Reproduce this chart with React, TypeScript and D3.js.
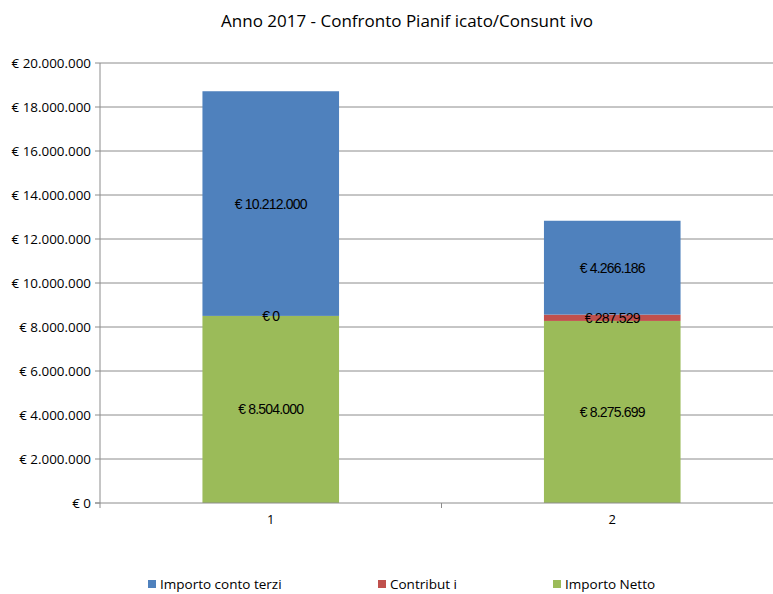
import React from "react";
import * as d3 from "d3";

const categories = ["1", "2"];
const legendLabels = ["Importo conto terzi", "Contribut i", "Importo Netto"];
const importoNetto = [8504000, 8275699];
const contributi = [0, 287529];
const contoTerzi = [10212000, 4266186];
const yTicks = [0, 2000000, 4000000, 6000000, 8000000, 10000000, 12000000, 14000000, 16000000, 18000000, 20000000];
const colors = ["#9BBB59", "#C0504D", "#4F81BD"];
const title = "Anno 2017 - Confronto Pianif icato/Consunt ivo";

const W = 773, H = 594;
const left = 100, right = 783, top = 63, bottom = 503;

const it = d3.formatLocale({ decimal: ",", thousands: ".", grouping: [3], currency: ["€ ", ""] });
const fmt = it.format(",.0f");
const money = (v: number) => "€ " + fmt(v);

export default function App() {
  const x = d3.scaleBand().domain(categories).range([left, right]).paddingInner(0).paddingOuter(0);
  const y = d3.scaleLinear().domain([0, 20000000]).range([bottom, top]);
  const rows = categories.map((c, i) => ({ cat: c, net: importoNetto[i], contr: contributi[i], terzi: contoTerzi[i] }));
  const stack = d3.stack<any>().keys(["net", "contr", "terzi"])(rows);
  const bw = x.bandwidth() * 0.4;
  const font = "'Liberation Sans', Arial, sans-serif";
  const axisFont = "'Open Sans', 'Noto Sans', sans-serif";
  const legendX = [148, 378, 553];
  const legendColors = [colors[2], colors[1], colors[0]];
  return (
    <svg width={W} height={H} style={{ position: "absolute", left: 0, top: 0, background: "#fff" }}>
      <rect x={0} y={0} width={W} height={H} fill="#fff" />
      <text x={407} y={27} textAnchor="middle" fontFamily={axisFont} fontSize={17} fill="#000">{title}</text>
      {yTicks.map((t) => (
        <g key={t}>
          {t > 0 && <line x1={left} x2={right} y1={y(t)} y2={y(t)} stroke="#8c8c8c" strokeWidth={1} />}
          <line x1={left - 5} x2={left} y1={y(t)} y2={y(t)} stroke="#8c8c8c" />
          <text x={91} y={y(t) + 4.5} textAnchor="end" fontFamily={axisFont} fontSize={13.4} fill="#000">{money(t)}</text>
        </g>
      ))}
      {stack.map((s, si) => (
        <g key={si}>
          {s.map((d: any, i: number) => {
            const cx = (x(categories[i]) as number) + x.bandwidth() / 2;
            return (
              <rect key={i} x={cx - bw / 2} width={bw} y={y(d[1])} height={Math.max(0, y(d[0]) - y(d[1]))} fill={colors[si]} />
            );
          })}
        </g>
      ))}
      {stack.map((s, si) => (
        <g key={"l" + si}>
          {s.map((d: any, i: number) => {
            const cx = (x(categories[i]) as number) + x.bandwidth() / 2;
            const cy = (y(d[0]) + y(d[1])) / 2;
            return (
              <text key={i} x={cx} y={cy + 5} textAnchor="middle" fontFamily={font} fontSize={14} letterSpacing={-0.8} fill="#000">
                {money(d[1] - d[0])}
              </text>
            );
          })}
        </g>
      ))}
      <line x1={left} x2={left} y1={top} y2={bottom + 5} stroke="#8c8c8c" />
      <line x1={left - 5} x2={right} y1={bottom} y2={bottom} stroke="#8c8c8c" />
      {categories.map((c, i) => (
        <g key={c}>
          <line x1={(x(c) as number) + x.bandwidth()} x2={(x(c) as number) + x.bandwidth()} y1={bottom} y2={bottom + 5} stroke="#8c8c8c" />
          <text x={(x(c) as number) + x.bandwidth() / 2} y={524} textAnchor="middle" fontFamily={axisFont} fontSize={13} fill="#000">{c}</text>
        </g>
      ))}
      {legendLabels.map((l, i) => (
        <g key={l}>
          <rect x={legendX[i]} y={580} width={8} height={8} fill={legendColors[i]} />
          <text x={legendX[i] + 12} y={589} fontFamily={axisFont} fontSize={13.5} fill="#000">{l}</text>
        </g>
      ))}
    </svg>
  );
}
